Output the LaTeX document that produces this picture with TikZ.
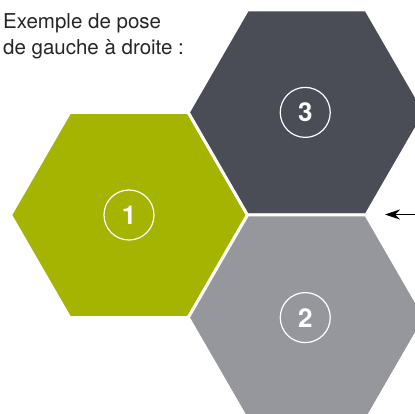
\documentclass[tikz,border=0pt]{standalone}
\usepackage{fontspec}
\setmainfont{TeX Gyre Heros}
\usetikzlibrary{shapes.geometric, arrows.meta}

\definecolor{tilegreen}{RGB}{164,180,0}
\definecolor{tiledark}{RGB}{74,77,86}
\definecolor{tilelight}{RGB}{150,151,156}

\tikzset{
  tile/.style={regular polygon, regular polygon sides=6, minimum size=237pt,
    inner sep=0pt, draw=white, line width=3pt},
  tilenum/.style={circle, draw=white, line width=1.2pt, minimum size=50pt,
    inner sep=0pt, text=white, font=\bfseries\fontsize{26}{26}\selectfont}
}

\begin{document}
\begin{tikzpicture}[x=1pt, y=-1pt, >=Stealth]
  % Frame of the picture
  \clip (0,0) rectangle (415,414);

  % Hexagonal tiles
  \node[tile, fill=tilegreen] (hexone) at (129,215) {};
  \node[tile, fill=tiledark] (hexthree) at (306.75,112.4) {};
  \node[tile, fill=tilelight] (hextwo) at (306.75,317.6) {};

  % Laying order
  \node[tilenum] (numone) at (hexone.center) {1};
  \node[tilenum] (numthree) at ([xshift=-1.5pt]hexthree.center) {3};
  \node[tilenum] (numtwo) at ([xshift=-1.5pt]hextwo.center) {2};

  % Caption
  \node[anchor=base west, align=left, inner sep=0pt,
        font=\fontsize{20.5}{26}\selectfont, text=black!85] (caption) at (3,55)
        {Exemple de pose\\de gauche à droite :};

  % Arrow to the joint
  \coordinate (arrowtail) at (416,214.5);
  \coordinate (arrowtip) at (385,214.5);
  \draw[->, line width=1pt, >={Stealth[length=15pt, width=10pt]}] (arrowtail) -- (arrowtip);
\end{tikzpicture}
\end{document}
